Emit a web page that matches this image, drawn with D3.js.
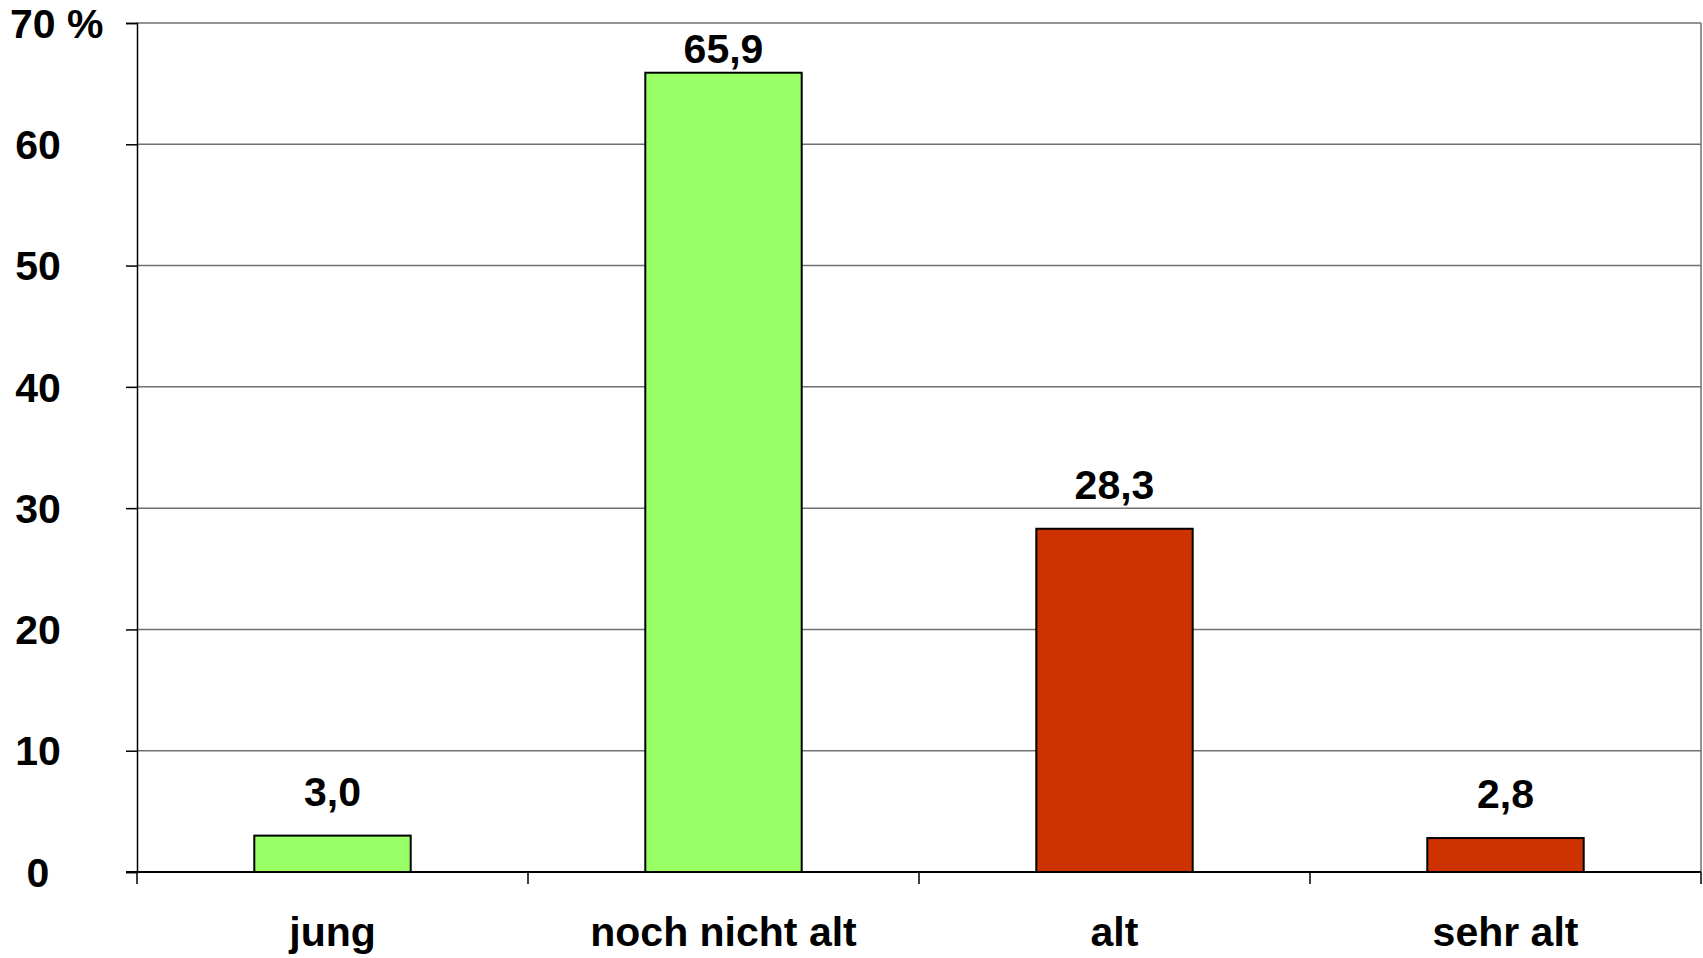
<!DOCTYPE html>
<html>
<head>
<meta charset="utf-8">
<script src="https://cdn.jsdelivr.net/npm/d3@7"></script>
<style>
    body { margin: 0; background: #fff; }
    text { font-family: "Liberation Sans", Arial, sans-serif; font-weight: bold; fill: #000; }
</style>
</head>
<body>
<script>
//chart data
var categories = ["jung", "noch nicht alt", "alt", "sehr alt"];
var values = [3.0, 65.9, 28.3, 2.8];
var barColors = ["#99ff66", "#99ff66", "#cc3300", "#cc3300"];
var yTicks = [0, 10, 20, 30, 40, 50, 60, 70];

window.onload = drawChart();

function drawChart(){
    var width = 1703,
        height = 958;

    //plot area edges
    var left = 137,
        right = 1701,
        top = 23,
        bottom = 872;

    var svg = d3.select("body")
        .append("svg")
        .attr("width", width)
        .attr("height", height);

    var x = d3.scaleBand()
        .domain(categories)
        .range([left, right])
        .paddingInner(0.6)
        .paddingOuter(0.3);

    var y = d3.scaleLinear()
        .domain([0, 70])
        .range([bottom, top]);

    //horizontal gridlines
    svg.selectAll(".grid")
        .data(yTicks.slice(1))
        .enter()
        .append("line")
        .attr("class", "grid")
        .attr("x1", left)
        .attr("x2", right)
        .attr("y1", function(d){ return y(d); })
        .attr("y2", function(d){ return y(d); })
        .attr("stroke", "#707070")
        .attr("stroke-width", 1.5);

    //right border of plot area
    svg.append("line")
        .attr("x1", right).attr("x2", right)
        .attr("y1", top).attr("y2", bottom)
        .attr("stroke", "#707070")
        .attr("stroke-width", 1.5);

    //y axis
    var yAxis = d3.axisLeft(y)
        .tickValues(yTicks)
        .tickSize(11)
        .tickFormat("");
    var yg = svg.append("g")
        .attr("transform", "translate(" + left + ",0)")
        .call(yAxis);
    yg.select(".domain").attr("stroke", "#000").attr("stroke-width", 1.5);
    yg.selectAll(".tick line").attr("stroke", "#000").attr("stroke-width", 1.5);

    //y tick labels
    svg.selectAll(".ylab")
        .data(yTicks)
        .enter()
        .append("text")
        .attr("class", "ylab")
        .attr("x", function(d){ return d == 70 ? 10 : 38; })
        .attr("y", function(d){ return y(d); })
        .attr("dy", "0.36em")
        .attr("text-anchor", function(d){ return d == 70 ? "start" : "middle"; })
        .style("font-size", "41px")
        .text(function(d){ return d == 70 ? "70 %" : d; });

    //category boundaries ticks
    var gap = x.step() - x.bandwidth();
    var bounds = categories.map(function(c){ return x(c) - gap / 2; });
    bounds.push(right);
    svg.selectAll(".xtick")
        .data(bounds)
        .enter()
        .append("line")
        .attr("class", "xtick")
        .attr("x1", function(d){ return d; })
        .attr("x2", function(d){ return d; })
        .attr("y1", bottom)
        .attr("y2", bottom + 12)
        .attr("stroke", "#000")
        .attr("stroke-width", 1.5);

    //bars
    svg.selectAll(".bar")
        .data(values)
        .enter()
        .append("rect")
        .attr("class", "bar")
        .attr("x", function(d, i){ return x(categories[i]); })
        .attr("width", x.bandwidth())
        .attr("y", function(d){ return y(d); })
        .attr("height", function(d){ return bottom - y(d); })
        .attr("fill", function(d, i){ return barColors[i]; })
        .attr("stroke", "#000")
        .attr("stroke-width", 2);

    //x axis baseline
    svg.append("line")
        .attr("x1", left - 11).attr("x2", right)
        .attr("y1", bottom).attr("y2", bottom)
        .attr("stroke", "#000")
        .attr("stroke-width", 2);

    //value labels
    svg.selectAll(".vlab")
        .data(values)
        .enter()
        .append("text")
        .attr("class", "vlab")
        .attr("x", function(d, i){ return x(categories[i]) + x.bandwidth() / 2; })
        .attr("y", function(d){ return Math.max(y(d) - 30, y(70) + 40); })
        .attr("text-anchor", "middle")
        .style("font-size", "41px")
        .text(function(d){ return d3.format(".1f")(d).replace(".", ","); });

    //category labels
    svg.selectAll(".xlab")
        .data(categories)
        .enter()
        .append("text")
        .attr("class", "xlab")
        .attr("x", function(d){ return x(d) + x.bandwidth() / 2; })
        .attr("y", 946)
        .attr("text-anchor", "middle")
        .style("font-size", "41px")
        .text(function(d){ return d; });
};
</script>
</body>
</html>
